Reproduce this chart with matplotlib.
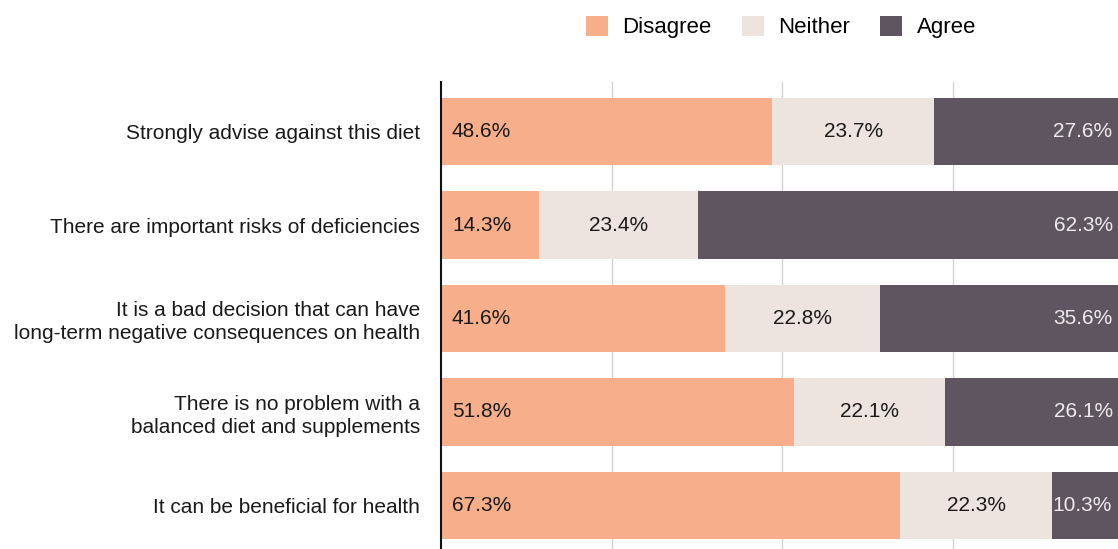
import matplotlib.pyplot as plt
import matplotlib.patches as mpatches
import numpy as np

plt.rcParams['font.family'] = ['Liberation Sans', 'DejaVu Sans']

# Data
statements = [
    'Strongly advise against this diet',
    'There are important risks of deficiencies',
    'It is a bad decision that can have\nlong-term negative consequences on health',
    'There is no problem with a\nbalanced diet and supplements',
    'It can be beneficial for health',
]
disagree = [48.6, 14.3, 41.6, 51.8, 67.3]
neither = [23.7, 23.4, 22.8, 22.1, 22.3]
agree = [27.6, 62.3, 35.6, 26.1, 10.3]

# Colors
DISAGREE = '#F7AE8B'
NEITHER = '#EDE4DF'
AGREE = '#5F5560'
TEXT = '#1A1A1A'

fig = plt.figure(figsize=(11.18, 5.49), dpi=100)
ax = fig.add_axes([441 / 1118, -6 / 549, 682 / 1118, 473 / 549])

y = np.arange(len(statements))
d = np.array(disagree)
n = np.array(neither)
a = np.array(agree)
h = 0.72

ax.barh(y, d, height=h, color=DISAGREE, zorder=2)
ax.barh(y, n, left=d, height=h, color=NEITHER, zorder=2)
ax.barh(y, a, left=d + n, height=h, color=AGREE, zorder=2)

fs = 15
for i in range(len(y)):
    ax.text(1.6, y[i], f'{d[i]:.1f}%', ha='left', va='center',
            fontsize=fs, color=TEXT, zorder=3)
    ax.text(d[i] + n[i] / 2, y[i], f'{n[i]:.1f}%', ha='center', va='center',
            fontsize=fs, color=TEXT, zorder=3)
    ax.text(d[i] + n[i] + a[i] - 1.5, y[i], f'{a[i]:.1f}%', ha='right',
            va='center', fontsize=fs, color='#EEEAEE', zorder=3)

ax.set_xlim(0, 100)
ax.set_ylim(4.53, -0.53)
ax.set_xticks([25, 50, 75])
ax.xaxis.grid(True, color='#D2D2D2', linewidth=1, zorder=0)
ax.tick_params(axis='x', length=0, labelbottom=False)
ax.tick_params(axis='y', length=0, pad=15)
ax.set_yticks(y)
ax.set_yticklabels(statements, fontsize=fs, color=TEXT, linespacing=1.25)
for s in ['top', 'right', 'bottom']:
    ax.spines[s].set_visible(False)
ax.spines['left'].set_color('#111111')
ax.spines['left'].set_linewidth(1.5)
ax.spines['left'].set_zorder(4)

handles = [
    mpatches.Patch(facecolor=DISAGREE, label='Disagree'),
    mpatches.Patch(facecolor=NEITHER, label='Neither'),
    mpatches.Patch(facecolor=AGREE, label='Agree'),
]
fig.legend(handles=handles, loc='center', ncol=3, frameon=False,
           bbox_to_anchor=(781 / 1118, 1 - 27 / 549), fontsize=16,
           handlelength=1.0, handleheight=1.0, handletextpad=0.65,
           columnspacing=1.35)

plt.savefig('out.png', dpi=100, facecolor='white')
